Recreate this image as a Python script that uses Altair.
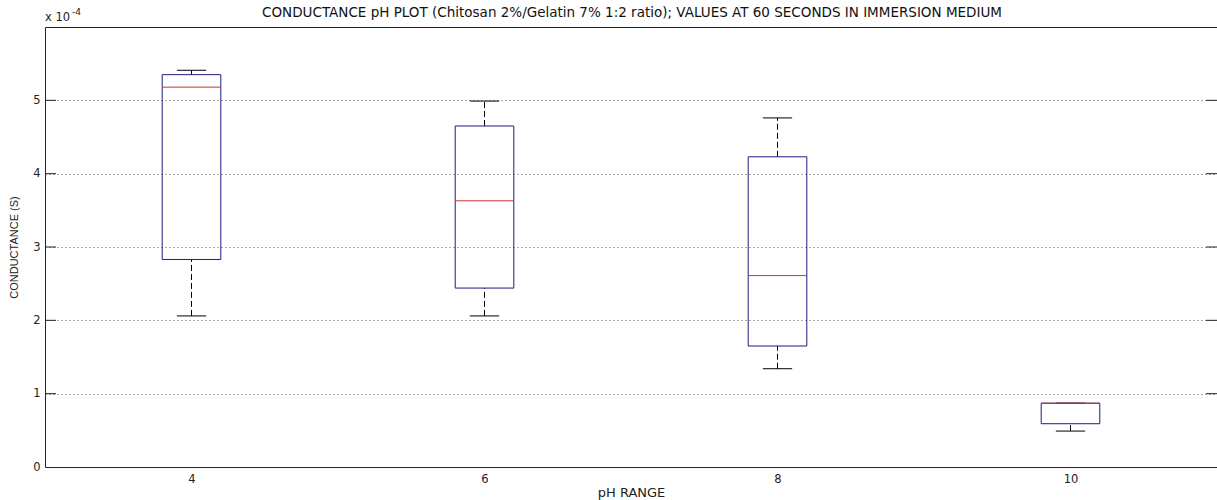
import altair as alt
import pandas as pd

# pH groups and box-plot statistics (conductance in S)
ph = [4, 6, 8, 10]
whisker_low = [2.06e-4, 2.06e-4, 1.34e-4, 0.49e-4]
q1 = [2.83e-4, 2.44e-4, 1.65e-4, 0.59e-4]
median = [5.18e-4, 3.63e-4, 2.61e-4, 0.87e-4]
q3 = [5.35e-4, 4.65e-4, 4.23e-4, 0.87e-4]
whisker_high = [5.41e-4, 4.99e-4, 4.76e-4, 0.87e-4]

y_ticks = [0, 1e-4, 2e-4, 3e-4, 4e-4, 5e-4]
x_ticks = [4, 6, 8, 10]
TITLE = "CONDUCTANCE pH PLOT (Chitosan 2%/Gelatin 7% 1:2 ratio); VALUES AT 60 SECONDS IN IMMERSION MEDIUM"

df = pd.DataFrame({"ph": ph, "lo": whisker_low, "q1": q1, "med": median,
                   "q3": q3, "hi": whisker_high})
ticks_df = pd.DataFrame({"v": y_ticks[1:]})
one = pd.DataFrame({"t": [TITLE]})

FONT = "Liberation Sans"
WIDE = "DejaVu Sans"
W, H = 1172, 440

xs = alt.Scale(domain=[3, 11], nice=False, zero=False)
ys = alt.Scale(domain=[0, 6e-4], nice=False, zero=False)

base = alt.Chart(df).transform_calculate(
    bl="datum.ph - 0.2", br="datum.ph + 0.2",
    cl="datum.ph - 0.1", cr="datum.ph + 0.1")

x_axis = alt.Axis(values=x_ticks, format="d", grid=False, tickSize=0,
                  labelPadding=6, title="pH RANGE", titlePadding=2,
                  labelFontSize=11.5, titleFontSize=13, labelFont=WIDE, titleFont=WIDE,
                  titleFontWeight="normal", labelColor="#222", titleColor="#222",
                  domain=False)
y_axis = alt.Axis(values=y_ticks, labelExpr="format(datum.value*1e4, 'd')",
                  grid=True, gridDash=[1, 3], gridColor="#444", gridOpacity=0.9,
                  tickSize=0, labelPadding=5, title="CONDUCTANCE (S)", titlePadding=13,
                  labelFontSize=11.5, titleFontSize=11, labelFont=WIDE, titleFont=FONT,
                  titleFontWeight="normal", labelColor="#222", titleColor="#222",
                  domain=False)

whisk_lo = base.mark_rule(color="black", strokeDash=[6, 3], strokeWidth=1).encode(
    x=alt.X("ph:Q", scale=xs, axis=x_axis),
    y=alt.Y("lo:Q", scale=ys, axis=y_axis),
    y2="q1:Q")
whisk_hi = base.mark_rule(color="black", strokeDash=[6, 3], strokeWidth=1).encode(
    x=alt.X("ph:Q", scale=xs), y=alt.Y("q3:Q", scale=ys), y2="hi:Q")
cap_lo = base.mark_rule(color="black", strokeWidth=1).encode(
    x=alt.X("cl:Q", scale=xs), x2="cr:Q", y=alt.Y("lo:Q", scale=ys))
cap_hi = base.mark_rule(color="black", strokeWidth=1).encode(
    x=alt.X("cl:Q", scale=xs), x2="cr:Q", y=alt.Y("hi:Q", scale=ys))
box = base.mark_rect(fill="white", fillOpacity=0, stroke="#1c1c80", strokeWidth=1).encode(
    x=alt.X("bl:Q", scale=xs), x2="br:Q", y=alt.Y("q1:Q", scale=ys), y2="q3:Q")
med = base.mark_rule(color="#d03030", strokeWidth=1).encode(
    x=alt.X("bl:Q", scale=xs), x2="br:Q", y=alt.Y("med:Q", scale=ys))

tick_l = alt.Chart(ticks_df).mark_rule(color="#222").encode(
    x=alt.value(0), x2=alt.value(11), y=alt.Y("v:Q", scale=ys))
tick_r = alt.Chart(ticks_df).mark_rule(color="#222").encode(
    x=alt.value(W - 11), x2=alt.value(W), y=alt.Y("v:Q", scale=ys))

mult = alt.Chart(one).mark_text(text="x 10", align="left", baseline="middle",
                                font=WIDE, fontSize=11.5, color="#222").encode(
    x=alt.value(0), y=alt.value(-9))
expo = alt.Chart(one).mark_text(text="-4", align="left", baseline="middle",
                                font=WIDE, fontSize=9, color="#222").encode(
    x=alt.value(27), y=alt.value(-15))
title = alt.Chart(one).mark_text(align="center", baseline="middle",
                                 font=WIDE, fontSize=13.5, color="#111").encode(
    text="t:N", x=alt.value(587), y=alt.value(-14))

chart = alt.layer(tick_l, tick_r, whisk_lo, whisk_hi, cap_lo, cap_hi, box, med,
                  mult, expo, title).properties(
    width=W, height=H,
    autosize=alt.AutoSizeParams(type="none"),
    padding={"left": 45, "top": 27, "right": 0, "bottom": 33},
    background="white",
).configure_view(stroke="#222", strokeWidth=1)

chart.save("out.html", embed_options={"renderer": "svg", "actions": False})
